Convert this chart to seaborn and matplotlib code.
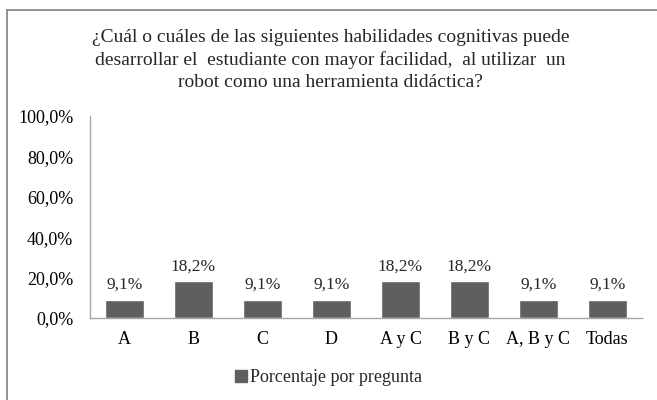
import matplotlib
matplotlib.use("Agg")
import matplotlib.pyplot as plt
from matplotlib.lines import Line2D
from matplotlib.ticker import FuncFormatter
import seaborn as sns
import pandas as pd

categories = ["A", "B", "C", "D", "A y C", "B y C", "A, B y C", "Todas"]
porcentajes = [9.1, 18.2, 9.1, 9.1, 18.2, 18.2, 9.1, 9.1]
serie = "Porcentaje por pregunta"
titulo = ("¿Cuál o cuáles de las siguientes habilidades cognitivas puede\n"
          "desarrollar el  estudiante con mayor facilidad,  al utilizar  un\n"
          "robot como una herramienta didáctica?")

df = pd.DataFrame({"categoria": categories, "valor": porcentajes, "serie": serie})

sns.set_style("white")
plt.rcParams["font.family"] = ["Liberation Serif", "DejaVu Serif"]

fig = plt.figure(figsize=(6.57, 4.0), dpi=100)
ax = fig.add_axes([90 / 657, 1 - 318 / 400, 552 / 657, 202 / 400])

bar_color = "#5f5f5f"
sns.barplot(data=df, x="categoria", y="valor", hue="serie", palette=[bar_color],
            width=0.57, ax=ax, legend=False)

ax.set_ylim(0, 100)
ax.set_xlim(-0.5, len(categories) - 0.5)
ax.set_yticks([0, 20, 40, 60, 80, 100])
ax.yaxis.set_major_formatter(FuncFormatter(lambda v, p: f"{v:.1f}%".replace(".", ",")))
ax.tick_params(axis="both", length=0, labelsize=13, colors="#000000")
ax.tick_params(axis="y", pad=12)
ax.tick_params(axis="x", pad=9)
ax.set_xlabel("")
ax.set_ylabel("")

for s in ["top", "right"]:
    ax.spines[s].set_visible(False)
for s in ["left", "bottom"]:
    ax.spines[s].set_color("#a6a6a6")
    ax.spines[s].set_linewidth(1.0)

for cont in ax.containers:
    ax.bar_label(cont, labels=[f"{v:.1f}%".replace(".", ",") for v in porcentajes],
                 padding=5, fontsize=12.5)

fig.text(0.503, 1 - 60 / 400, titulo, ha="center", va="center", fontsize=14,
         linespacing=1.38)

handles = [plt.Rectangle((0, 0), 1, 1, color=bar_color)]
fig.legend(handles, [serie], loc="center", bbox_to_anchor=(0.5, 1 - 378 / 400),
           frameon=False, fontsize=13, handlelength=0.65, handleheight=0.65,
           handletextpad=0.2)

# chart area border (top and left edges visible)
fig.add_artist(Line2D([6.5 / 657, 1], [1 - 9.5 / 400, 1 - 9.5 / 400],
                      transform=fig.transFigure, color="#808080", lw=1.2))
fig.add_artist(Line2D([6.5 / 657, 6.5 / 657], [0, 1 - 9.5 / 400],
                      transform=fig.transFigure, color="#808080", lw=1.2))

fig.savefig("out.png", dpi=100)
